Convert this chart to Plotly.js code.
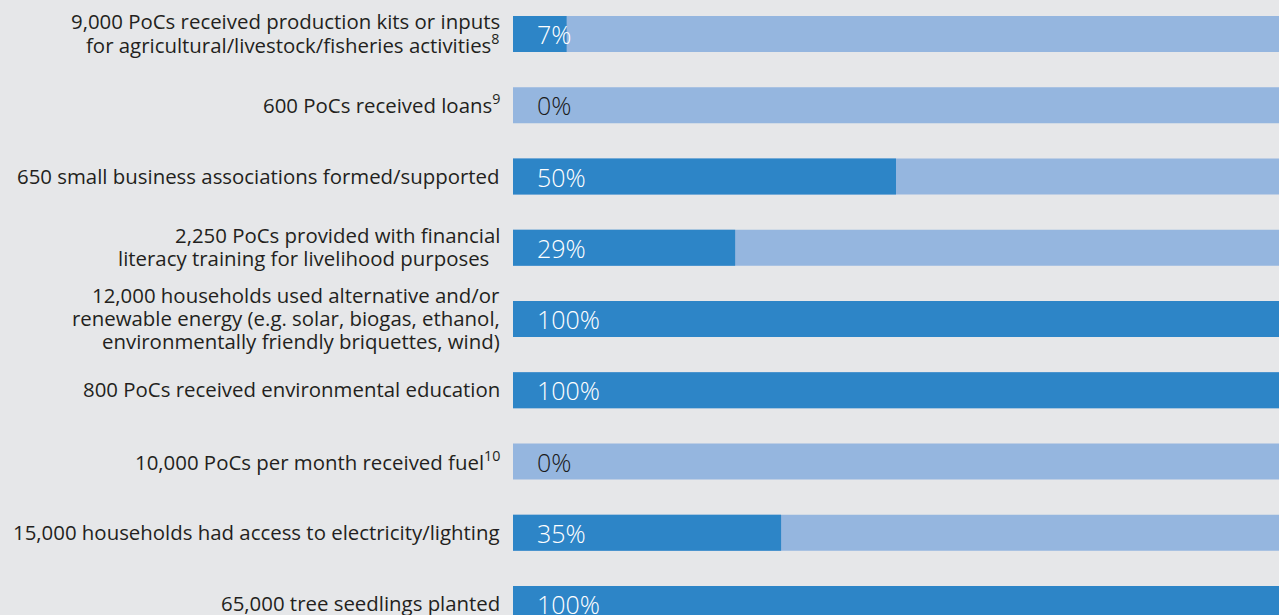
<!DOCTYPE html>
<html>
<head>
<meta charset="utf-8">
<script src="https://cdn.plot.ly/plotly-3.0.1.min.js"></script>
<style>html,body{margin:0;padding:0;background:#e6e7e9;}#chart{width:1279px;height:615px;}</style>
</head>
<body>
<div id="chart"></div>
<script>
var categories = [
  "9,000 PoCs received production kits or inputs<br>for agricultural/livestock/fisheries activities<sup>8</sup>",
  "600 PoCs received loans<sup>9</sup>",
  "650 small business associations formed/supported",
  "2,250 PoCs provided with financial<br>literacy training for livelihood purposes\u00a0\u00a0",
  "12,000 households used alternative and/or<br>renewable energy (e.g. solar, biogas, ethanol,<br>environmentally friendly briquettes, wind)",
  "800 PoCs received environmental education",
  "10,000 PoCs per month received fuel<sup>10</sup>",
  "15,000 households had access to electricity/lighting",
  "65,000 tree seedlings planted"
];
var achieved = [7, 0, 50, 29, 100, 100, 0, 35, 100];
var target = [100, 100, 100, 100, 100, 100, 100, 100, 100];

var FONT = "'Open Sans', sans-serif";
var LINE = 23;
var traces = [
  {type: 'bar', orientation: 'h', y: categories, x: target, marker: {color: '#95b6df'}, width: 0.505, hoverinfo: 'skip', showlegend: false},
  {type: 'bar', orientation: 'h', y: categories, x: achieved, marker: {color: '#2d85c7'}, width: 0.505, hoverinfo: 'skip', showlegend: false}
];
var annotations = achieved.map(function (v, i) {
  return {
    x: 0, y: categories[i], xref: 'x', yref: 'y', xanchor: 'left', yanchor: 'middle',
    xshift: 22, yshift: 0, showarrow: false, text: v + '%',
    font: {family: FONT, size: 25, weight: 300, color: v > 0 ? '#ffffff' : '#1a1a1a'}
  };
});
categories.forEach(function (c, i) {
  var lines = c.split('<br>');
  var n = lines.length;
  lines.forEach(function (ln, k) {
    annotations.push({
      x: 0, y: categories[i], xref: 'paper', yref: 'y', xanchor: 'right', yanchor: 'middle',
      xshift: -11, yshift: ((n - 1) / 2 - k) * LINE + 1, showarrow: false, text: ln,
      font: {family: FONT, size: 20.4, color: '#231f20'}
    });
  });
});
var layout = {
  width: 1279, height: 615,
  margin: {l: 513, r: 0, t: 0, b: 0, pad: 0},
  paper_bgcolor: '#e6e7e9', plot_bgcolor: '#e6e7e9',
  barmode: 'overlay',
  xaxis: {range: [0, 100], visible: false, fixedrange: true},
  yaxis: {
    type: 'category', range: [8.154, -0.477], showgrid: false, zeroline: false, showline: false,
    showticklabels: false, ticks: ''
  },
  annotations: annotations,
  font: {family: FONT}
};
Plotly.newPlot('chart', traces, layout, {displayModeBar: false, staticPlot: true});
</script>
</body>
</html>
